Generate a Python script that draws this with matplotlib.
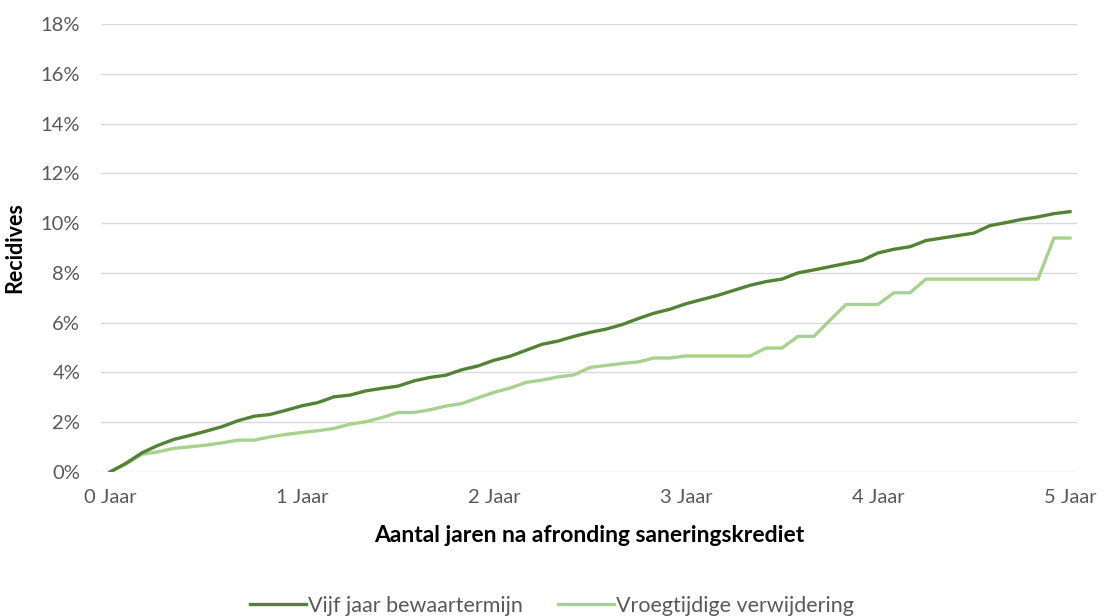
import matplotlib
matplotlib.use("Agg")
from matplotlib import pyplot as plt
from matplotlib.ticker import FuncFormatter

# months after completion (0..60)
months = list(range(61))

vijf_jaar = [0.00, 0.35, 0.77, 1.07, 1.31, 1.47, 1.64, 1.82, 2.06, 2.24,
             2.31, 2.48, 2.66, 2.79, 3.02, 3.09, 3.26, 3.36, 3.45, 3.66,
             3.80, 3.89, 4.11, 4.26, 4.49, 4.65, 4.89, 5.13, 5.26, 5.45,
             5.61, 5.74, 5.92, 6.16, 6.38, 6.54, 6.76, 6.93, 7.10, 7.30,
             7.50, 7.65, 7.75, 8.00, 8.12, 8.25, 8.38, 8.50, 8.80, 8.95,
             9.05, 9.30, 9.40, 9.50, 9.60, 9.90, 10.02, 10.15, 10.25, 10.38,
             10.46]

vroegtijdig = [0.00, 0.32, 0.71, 0.81, 0.95, 1.01, 1.08, 1.17, 1.28, 1.28,
               1.41, 1.51, 1.59, 1.66, 1.75, 1.92, 2.02, 2.19, 2.39, 2.39,
               2.50, 2.65, 2.75, 2.98, 3.20, 3.37, 3.60, 3.69, 3.82, 3.90,
               4.20, 4.28, 4.36, 4.42, 4.58, 4.58, 4.66, 4.66, 4.66, 4.66,
               4.66, 4.98, 4.98, 5.45, 5.45, 6.10, 6.73, 6.73, 6.73, 7.20,
               7.20, 7.75, 7.75, 7.75, 7.75, 7.75, 7.75, 7.75, 7.75, 9.40,
               9.40]

tick_months = [0, 12, 24, 36, 48, 60]
tick_labels = ["0 Jaar", "1 Jaar", "2 Jaar", "3 Jaar", "4 Jaar", "5 Jaar"]

plt.rcParams['font.family'] = ['Lato', 'DejaVu Sans']

fig = plt.figure(figsize=(11.04, 6.16), dpi=100)
ax = fig.add_axes([101 / 1104, 1 - 472 / 616, (1077 - 101) / 1104, (472 - 24) / 616])

ax.plot(months, vijf_jaar, color='#548235', lw=2.4, label='Vijf jaar bewaartermijn',
        solid_joinstyle='round', zorder=3)
ax.plot(months, vroegtijdig, color='#A9D18E', lw=2.4, label='Vroegtijdige verwijdering',
        solid_joinstyle='round', zorder=2)

ax.set_xlim(-0.56, 60.44)
ax.set_ylim(0, 18)
ax.set_yticks(range(0, 19, 2))
ax.yaxis.set_major_formatter(FuncFormatter(lambda v, p: f"{v:.0f}%"))
ax.set_xticks(tick_months)
ax.set_xticklabels(tick_labels)

ax.grid(axis='y', color='#D9D9D9', lw=1)
ax.set_axisbelow(True)
for s in ax.spines.values():
    s.set_visible(False)
ax.tick_params(length=0, labelsize=14.5, colors='#595959')
ax.tick_params(axis='y', pad=15)
ax.tick_params(axis='x', pad=12)

ax.set_ylabel('Recidives', fontsize=15.5, fontweight='bold', color='black', labelpad=11)
ax.set_xlabel('Aantal jaren na afronding saneringskrediet', fontsize=16.5,
              fontweight='bold', color='black', labelpad=14)

leg = fig.legend(loc='center', bbox_to_anchor=(0.5, 1 - 606 / 616), ncol=2, frameon=False,
                 fontsize=15.5, handlelength=2.6, columnspacing=1.6, handletextpad=0.1)
for t in leg.get_texts():
    t.set_color('#595959')

fig.savefig('out.png', dpi=100)
